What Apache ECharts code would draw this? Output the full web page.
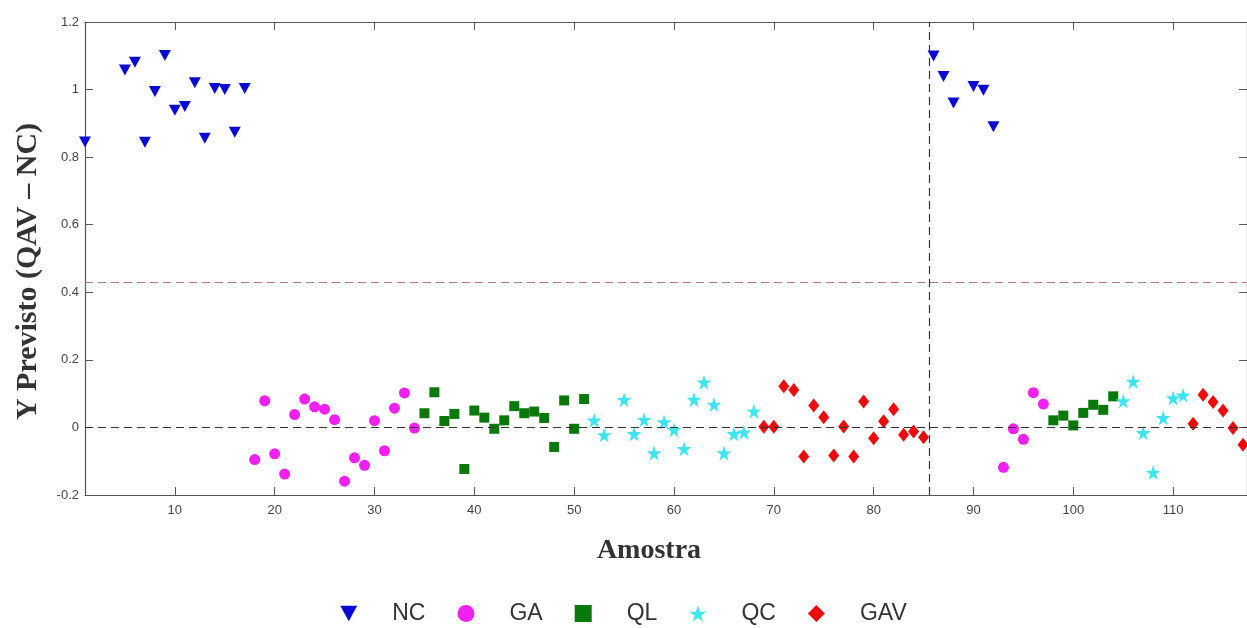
<!DOCTYPE html>
<html>
<head>
<meta charset="utf-8">
<title>Y Previsto (QAV – NC)</title>
<script src="https://cdn.jsdelivr.net/npm/echarts@6/dist/echarts.min.js"></script>
<style>
  html, body { margin: 0; padding: 0; background: #ffffff; }
  #chart { width: 1247px; height: 628px; }
</style>
</head>
<body>
<div id="chart"></div>
<script>
// Sample indices (Amostra) and predicted Y for each class
const ncX  = [1, 5, 6, 7, 8, 9, 10, 11, 12, 13, 14, 15, 16, 17, 86, 87, 88, 90, 91, 92];
const ncY  = [0.845, 1.058, 1.081, 0.844, 0.994, 1.101, 0.939, 0.950, 1.020, 0.856, 1.003, 1.000, 0.874, 1.003,
              1.099, 1.039, 0.960, 1.009, 0.998, 0.890];

const gaX  = [18, 19, 20, 21, 22, 23, 24, 25, 26, 27, 28, 29, 30, 31, 32, 33, 34, 93, 94, 95, 96, 97];
const gaY  = [-0.095, 0.079, -0.078, -0.138, 0.038, 0.084, 0.061, 0.054, 0.023, -0.159, -0.090, -0.112,
              0.020, -0.069, 0.057, 0.102, -0.002, -0.118, -0.004, -0.035, 0.103, 0.069];

const qlX  = [35, 36, 37, 38, 39, 40, 41, 42, 43, 44, 45, 46, 47, 48, 49, 50, 51,
              98, 99, 100, 101, 102, 103, 104];
const qlY  = [0.042, 0.104, 0.019, 0.040, -0.123, 0.050, 0.029, -0.004, 0.021, 0.063, 0.042, 0.047, 0.028,
              -0.058, 0.080, -0.004, 0.084, 0.021, 0.035, 0.006, 0.043, 0.067, 0.052, 0.092];

const qcX  = [52, 53, 55, 56, 57, 58, 59, 60, 61, 62, 63, 64, 65, 66, 67, 68,
              105, 106, 107, 108, 109, 110, 111];
const qcY  = [0.021, -0.022, 0.082, -0.019, 0.023, -0.076, 0.016, -0.007, -0.063, 0.083, 0.134, 0.068,
              -0.076, -0.019, -0.014, 0.048, 0.078, 0.136, -0.016, -0.133, 0.029, 0.087, 0.095];

const gavX = [69, 70, 71, 72, 73, 74, 75, 76, 77, 78, 79, 80, 81, 82, 83, 84, 85,
              112, 113, 114, 115, 116, 117];
const gavY = [0.002, 0.002, 0.122, 0.111, -0.086, 0.065, 0.030, -0.083, 0.003, -0.086, 0.077, -0.032,
              0.018, 0.054, -0.022, -0.012, -0.029, 0.011, 0.097, 0.075, 0.050, -0.002, -0.051];

// Axis ticks and reference lines
const xTicks = [10, 20, 30, 40, 50, 60, 70, 80, 90, 100, 110];
const xRange = [1, 117.4];
const yRange = [-0.2, 1.2];
const yStep = 0.2;
const limitY = 0.427;   // classification threshold
const zeroY = 0;
const splitX = 85.6;    // boundary between the two sample sets

const pairs = (xs, ys) => xs.map((x, i) => [x, ys[i]]);

const STAR = 'path://M50,0 L61,35 L98,35 L68,57 L79,91 L50,70 L21,91 L32,57 L2,35 L39,35 Z';
const TRI_DOWN = 'path://M0,0 L20,0 L10,18 Z';

const axisColor = '#555555';
const tickLabel = { fontFamily: 'Liberation Sans Narrow, Liberation Sans, Arial, sans-serif', fontSize: 13, color: '#444444' };

const chart = echarts.init(document.getElementById('chart'), null, { renderer: 'canvas' });

chart.setOption({
  backgroundColor: '#ffffff',
  animation: false,
  grid: { left: 85, top: 22, right: 0, bottom: 133, containLabel: false },
  legend: {
    bottom: -2,
    left: 'center',
    itemWidth: 17,
    itemHeight: 17,
    itemGap: 32,
    textStyle: { fontFamily: 'Liberation Sans, Arial, sans-serif', fontSize: 23, color: '#333333', padding: [0, 0, 0, 30] },
    data: [
      { name: 'NC', icon: TRI_DOWN },
      { name: 'GA', icon: 'circle' },
      { name: 'QL', icon: 'rect' },
      { name: 'QC', icon: STAR },
      { name: 'GAV', icon: 'diamond' }
    ]
  },
  xAxis: [
    {
      type: 'value', min: xRange[0], max: xRange[1], position: 'bottom',
      name: 'Amostra', nameLocation: 'middle', nameGap: 42,
      nameTextStyle: { fontFamily: 'Liberation Serif, Times New Roman, serif', fontWeight: 'bold', fontSize: 28, color: '#333333', padding: [0, 34, 0, 0] },
      axisLine: { onZero: false, lineStyle: { color: axisColor, width: 1.2 } },
      axisTick: { inside: true, length: 8, customValues: xTicks, lineStyle: { color: axisColor } },
      axisLabel: Object.assign({ customValues: xTicks, margin: 9 }, tickLabel),
      splitLine: { show: false }
    },
    {
      type: 'value', min: xRange[0], max: xRange[1], position: 'top',
      axisLine: { onZero: false, lineStyle: { color: axisColor, width: 1.2 } },
      axisTick: { inside: true, length: 8, customValues: xTicks, lineStyle: { color: axisColor } },
      axisLabel: { show: false },
      splitLine: { show: false }
    }
  ],
  yAxis: [
    {
      type: 'value', min: yRange[0], max: yRange[1], interval: yStep, position: 'left',
      name: 'Y Previsto (QAV – NC)', nameLocation: 'middle', nameGap: 42,
      nameTextStyle: { fontFamily: 'Liberation Serif, Times New Roman, serif', fontWeight: 'bold', fontSize: 30, color: '#333333', padding: [0, 26, 0, 0] },
      axisLine: { onZero: false, lineStyle: { color: axisColor, width: 1.2 } },
      axisTick: { inside: true, length: 8, lineStyle: { color: axisColor } },
      axisLabel: Object.assign({ margin: 6 }, tickLabel),
      splitLine: { show: false }
    },
    {
      type: 'value', min: yRange[0], max: yRange[1], interval: yStep, position: 'right',
      axisLine: { onZero: false, lineStyle: { color: axisColor, width: 1.2 } },
      axisTick: { inside: true, length: 8, lineStyle: { color: axisColor } },
      axisLabel: { show: false },
      splitLine: { show: false }
    }
  ],
  series: [
    {
      name: 'NC', type: 'scatter', symbol: TRI_DOWN, symbolSize: [12, 11],
      itemStyle: { color: '#0a0ad2', opacity: 1 },
      data: pairs(ncX, ncY),
      markLine: {
        silent: true, symbol: 'none', label: { show: false },
        lineStyle: { type: [8, 5], width: 1.2 },
        data: [
          { yAxis: zeroY, lineStyle: { color: '#333333' } },
          { yAxis: limitY, lineStyle: { color: '#b87878' } },
          { xAxis: splitX, lineStyle: { color: '#333333' } }
        ]
      }
    },
    {
      name: 'GA', type: 'scatter', symbol: 'circle', symbolSize: 11,
      itemStyle: { color: '#f020f0', opacity: 1 },
      data: pairs(gaX, gaY)
    },
    {
      name: 'QL', type: 'scatter', symbol: 'rect', symbolSize: 10,
      itemStyle: { color: '#0b780b', opacity: 1 },
      data: pairs(qlX, qlY)
    },
    {
      name: 'QC', type: 'scatter', symbol: STAR, symbolSize: 15,
      itemStyle: { color: '#3ee4f0', opacity: 1 },
      data: pairs(qcX, qcY)
    },
    {
      name: 'GAV', type: 'scatter', symbol: 'diamond', symbolSize: [11, 14],
      itemStyle: { color: '#ec0c0c', opacity: 1 },
      data: pairs(gavX, gavY)
    }
  ]
});
</script>
</body>
</html>
